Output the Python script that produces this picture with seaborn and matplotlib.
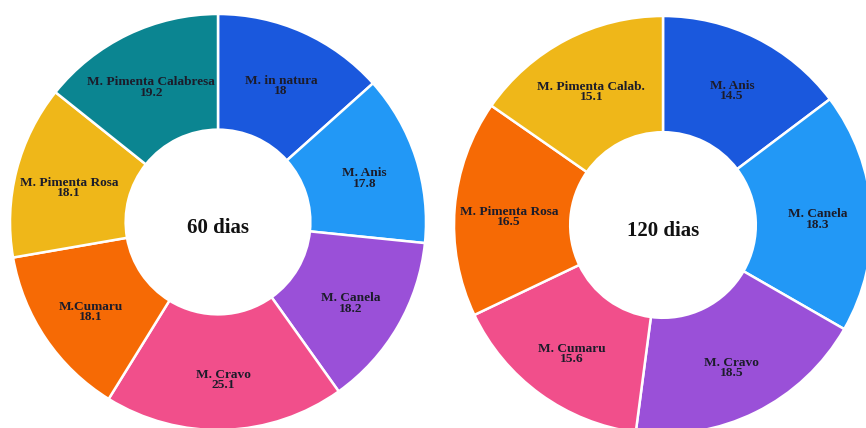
import numpy as np
import seaborn as sns
import matplotlib.pyplot as plt

sns.set_theme(style="white")
plt.rcParams['font.family'] = ['Liberation Serif', 'DejaVu Serif']

# 60 dias
labels_60 = ["M. in natura", "M. Anis", "M. Canela", "M. Cravo",
             "M.Cumaru", "M. Pimenta Rosa", "M. Pimenta Calabresa"]
values_60 = [18, 17.8, 18.2, 25.1, 18.1, 18.1, 19.2]
colors_60 = ["#1a58dd", "#2298f6", "#9a50d8", "#f14f8b",
             "#f66a05", "#efb719", "#0b8591"]

# 120 dias
labels_120 = ["M. Anis", "M. Canela", "M. Cravo", "M. Cumaru",
              "M. Pimenta Rosa", "M. Pimenta Calab."]
values_120 = [14.5, 18.3, 18.5, 15.6, 16.5, 15.1]
colors_120 = ["#1a58dd", "#2298f6", "#9a50d8", "#f14f8b",
              "#f66a05", "#efb719"]

W, H = 866, 428
fig = plt.figure(figsize=(W / 100, H / 100), dpi=100)


def donut(cx, cy, r, labels, values, colors, title):
    # axes placed in pixel coords so the ring lands where the reference has it
    ax = fig.add_axes([(cx - r) / W, (H - cy - r) / H, 2 * r / W, 2 * r / H])
    wedges, _ = ax.pie(values, colors=colors, startangle=90, counterclock=False,
                       radius=1, wedgeprops=dict(width=0.556, edgecolor="white",
                                                 linewidth=1.8))
    for w, lab, val in zip(wedges, labels, values):
        ang = np.deg2rad((w.theta1 + w.theta2) / 2)
        x, y = 0.74 * np.cos(ang), 0.74 * np.sin(ang) - 0.02
        ax.text(x, y, f"{lab}\n{val:g}", ha="center", va="center",
                fontsize=9.6, fontweight="bold", color="#1c1c2a",
                linespacing=0.8)
    ax.text(0, -0.03, title, ha="center", va="center", fontsize=15,
            fontweight="bold", color="#111111")
    ax.set_xlim(-1, 1)
    ax.set_ylim(-1, 1)
    ax.axis("off")


donut(218, 222, 208, labels_60, values_60, colors_60, "60 dias")
donut(663, 225, 209, labels_120, values_120, colors_120, "120 dias")

fig.savefig("out.png", dpi=100, facecolor="white")
